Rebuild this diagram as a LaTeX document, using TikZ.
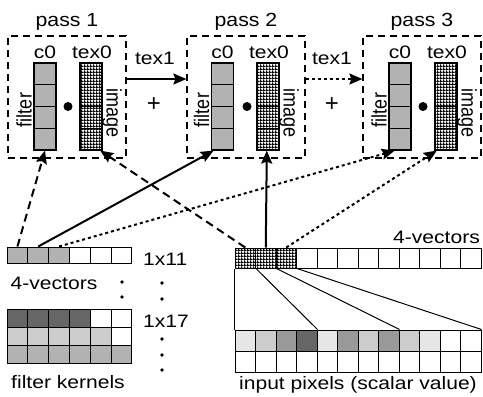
\documentclass[tikz,border=0pt]{standalone}
\usepackage{fontspec}
\setmainfont{Liberation Sans}
\usepackage{graphicx}
\usetikzlibrary{arrows.meta,patterns,calc}
\pgfdeclarepatternformonly{chk}{\pgfpointorigin}{\pgfqpoint{2.8pt}{2.8pt}}{\pgfqpoint{2.8pt}{2.8pt}}{%
 \pgfpathrectangle{\pgfpointorigin}{\pgfqpoint{2.8pt}{1.1pt}}%
 \pgfpathrectangle{\pgfpointorigin}{\pgfqpoint{1.1pt}{2.8pt}}%
 \pgfusepath{fill}}
\newcommand{\hs}[1]{\scalebox{1.17}[1]{#1}}
\newcommand{\ths}[1]{\scalebox{1.12}[1]{#1}}
\newcommand{\vs}[1]{\scalebox{1}[1.17]{#1}}
\definecolor{cg}{HTML}{B2B2B2}
\definecolor{dk}{HTML}{666666}
\definecolor{lt}{HTML}{CCCCCC}
\definecolor{md}{HTML}{999999}
\definecolor{vl}{HTML}{E6E6E6}
\tikzset{
 txt/.style={font=\fontsize{18}{21}\selectfont, inner sep=0pt},
 ttl/.style={font=\fontsize{19}{22}\selectfont, inner sep=0pt, anchor=base},
 plus/.style={font=\fontsize{24}{26}\selectfont, inner sep=0pt},
 passbox/.style={draw, line width=1.2pt, dash pattern=on 7pt off 5pt, minimum width=118pt, minimum height=122pt, inner sep=0pt},
 colbox/.style={draw, line width=1.2pt, minimum width=22pt, minimum height=87pt, inner sep=0pt},
 cell/.style={draw, line width=1pt, minimum width=20.8pt, minimum height=16pt, inner sep=0pt},
 vcell/.style={draw, line width=1pt, minimum width=20.5pt, minimum height=20pt, inner sep=0pt},
 pcell/.style={draw, line width=1pt, minimum width=20.5pt, minimum height=21pt, inner sep=0pt},
 hatch/.style={fill=white, pattern=chk, pattern color=black},
 tip/.style={-{Stealth[length=13pt,width=11pt,inset=2pt]}},
 solidc/.style={tip, line width=2pt},
 dashc/.style={tip, line width=2pt, dash pattern=on 8pt off 5pt},
 dotc/.style={tip, line width=2pt, dash pattern=on 3pt off 3pt},
 dotmark/.style={circle, fill, inner sep=0pt, minimum size=3.6pt},
}
\begin{document}
\begin{tikzpicture}[x=1pt,y=-1pt]
\useasboundingbox (0,0) rectangle (483,397);
% passes
\foreach \i/\x/\cx/\tx in {1/8/45/91, 2/187/222.5/268, 3/363/400/446}{
 \node[passbox] (box\i) at (\x+59,97) {};
 \node[ttl] (title\i) at (\x+59,26) {\ths{pass \i}};
 \node[colbox, fill=cg] (c\i) at (\cx,106.5) {};
 \node[colbox, hatch] (t\i) at (\tx,106.5) {};
 \foreach \k in {1,2,3}{
  \draw[line width=1.2pt] ($(c\i.north west)!\k/4!(c\i.south west)$) -- ($(c\i.north east)!\k/4!(c\i.south east)$);
  \draw[line width=1.2pt] ($(t\i.north west)!\k/4!(t\i.south west)$) -- ($(t\i.north east)!\k/4!(t\i.south east)$);
 }
 \node[txt, anchor=base] (cl\i) at (\cx,58) {\hs{c0}};
 \node[txt, anchor=base] (tl\i) at (\tx+1,58) {\hs{tex0}};
 \node[circle, fill, inner sep=0pt, minimum size=9pt] (dot\i) at (\x+60,106.5) {};
 \node[txt, rotate=90] (fl\i) at (\cx-21,110) {\vs{filter}};
 \node[txt, rotate=-90] (il\i) at (\tx+21,113) {\vs{image}};
}
% tex1 links
\draw[solidc] (box1.east |- 0,79) -- (box2.west |- 0,79);
\draw[dotc] (box2.east |- 0,79) -- (box3.west |- 0,79);
\node[txt, anchor=base] (tx1) at (155,64) {\hs{tex1}};
\node[txt, anchor=base] (tx2) at (332,64) {\hs{tex1}};
\node[plus] (plus1) at (154,105) {+};
\node[plus] (plus2) at (332,105) {+};
% kernel 4-vectors row
\foreach \j in {1,...,6}{
 \pgfmathsetmacro{\kx}{7+20.83*(\j-0.5)}
 \ifnum\j<4
  \node[cell, fill=cg] (k\j) at (\kx,255) {};
 \else
  \node[cell] (k\j) at (\kx,255) {};
 \fi
}
\node[txt, anchor=base west] (l1x11) at (143,265) {\hs{1x11}};
\node[txt, anchor=base] (lvec) at (54,289) {\hs{4-vectors}};
\node[dotmark] (d1) at (122,282) {};
\node[dotmark] (d2) at (122,297) {};
\node[dotmark] (d3) at (162,283) {};
\node[dotmark] (d4) at (162,299) {};
% filter kernels grid
\foreach \j/\a/\b/\c in {1/dk/lt/cg, 2/dk/lt/cg, 3/dk/lt/cg, 4/dk/lt/cg, 5/white/lt/cg, 6/white/white/cg}{
 \pgfmathsetmacro{\kx}{7+20.83*(\j-0.5)}
 \node[cell, minimum height=18pt, fill=\a] (fa\j) at (\kx,318) {};
 \node[cell, minimum height=18pt, fill=\b] (fb\j) at (\kx,336) {};
 \node[cell, minimum height=18pt, fill=\c] (fc\j) at (\kx,354) {};
}
\node[txt, anchor=base west] (l1x17) at (143,327) {\hs{1x17}};
\node[dotmark] (d5) at (162,339) {};
\node[dotmark] (d6) at (162,355) {};
\node[dotmark] (d7) at (162,370) {};
\node[txt, anchor=base] (lfk) at (68,388) {\hs{filter kernels}};
% input 4-vectors row
\foreach \j in {1,...,12}{
 \pgfmathsetmacro{\vx}{235+20.5*(\j-0.5)}
 \ifnum\j<4
  \node[vcell, hatch] (v\j) at (\vx,258) {};
 \else
  \node[vcell] (v\j) at (\vx,258) {};
 \fi
}
\node[txt, anchor=base east] (lvec2) at (480,243) {\hs{4-vectors}};
% input pixels
\foreach \j/\a in {1/vl, 2/lt, 3/md, 4/dk, 5/vl, 6/md, 7/lt, 8/md, 9/lt, 10/vl, 11/white, 12/white}{
 \pgfmathsetmacro{\vx}{235+20.5*(\j-0.5)}
 \node[pcell, fill=\a] (pa\j) at (\vx,340.5) {};
 \node[pcell] (pb\j) at (\vx,361.5) {};
}
\node[txt, anchor=base] (lin) at (358,389) {\hs{input pixels (scalar value)}};
% mapping lines
\draw[line width=1pt] (v1.south west) -- (pa1.north west);
\draw[line width=1pt] (v1.south east) -- (pa4.north east);
\draw[line width=1pt] (v2.south east) -- (pa8.north east);
\draw[line width=1pt] (v3.south east) -- (pa12.north east);
% connectors
\draw[dashc] (k1.north) -- (c1.south);
\draw[solidc] (k2.north) -- ($(c2.south west)!0.12!(c2.south east)$);
\draw[dotc] (k3.north) -- ($(c3.south west)!0.27!(c3.south east)$);
\draw[dashc] (v1.north) -- ($(t1.south west)!0.9!(t1.south east)$);
\draw[solidc] (v2.north) -- ($(t2.south west)!0.45!(t2.south east)$);
\draw[dotc] (v3.north) -- ($(t3.south west)!0.1!(t3.south east)$);
\end{tikzpicture}
\end{document}
